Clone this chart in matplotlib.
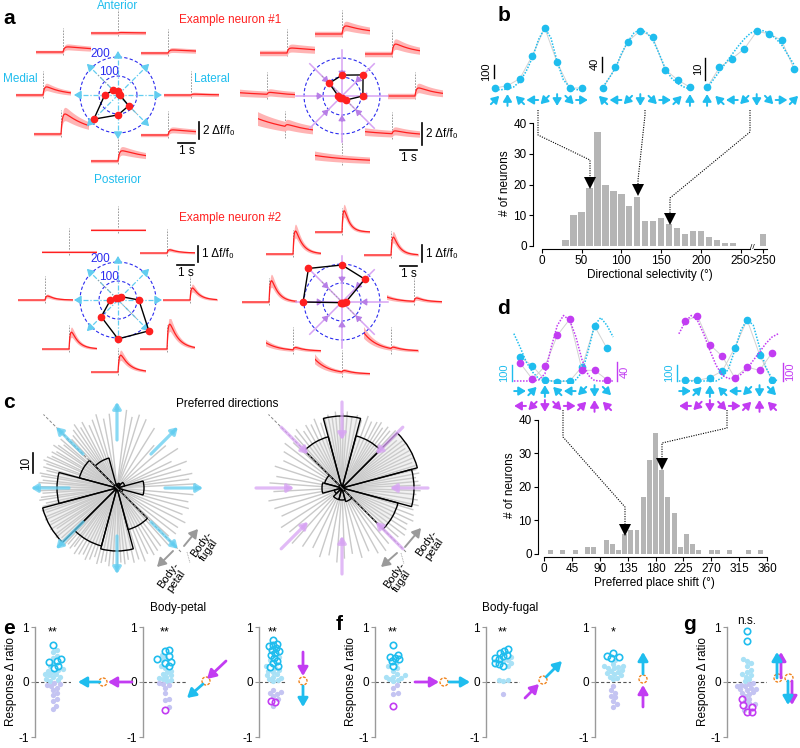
import numpy as np
import matplotlib
matplotlib.use("Agg")
import matplotlib.pyplot as plt
from matplotlib.patches import Circle
from matplotlib.transforms import offset_copy

plt.rcParams["font.family"] = ["Liberation Sans", "DejaVu Sans"]
plt.rcParams["font.size"] = 8.5
plt.rcParams["axes.linewidth"] = 0.8
plt.rcParams["xtick.major.size"] = 3
plt.rcParams["ytick.major.size"] = 3
plt.rcParams["xtick.major.pad"] = 1.5
plt.rcParams["ytick.major.pad"] = 1.5

W, H = 800, 748

RED = "#ff2020"
RED_BAND = "#ffb4b4"
CYAN = "#1fbdee"
CYAN_L = "#a9e1f6"
CYAN_A = "#62cdf0"
VIOLET = "#c23cf2"
VIOLET_A = "#d7a3f3"
LAV = "#c4c4f2"
BLUE = "#2b2bef"
ORANGE = "#f0841e"
BAR = "#b5b5b5"

# ---------------- data ----------------
# panel a, directions in the order E, NE, N, NW, W, SW, S, SE
dir_deg = [0, 45, 90, 135, 180, 225, 270, 315]

n1_cyan_amp = [0.1, 0.35, 0.05, 0.6, 0.95, 2.35, 1.2, 0.6]
n1_cyan_tau = [1.0, 3.0, 1.0, 3.0, 1.0, 1.5, 2.0, 3.0]
n1_cyan_drift = [0, 0, 0, 0, 0, 0, 0, 0]
n1_cyan_polar = [10, 10, 20, 35, 70, 180, 105, 80]

n1_violet_amp = [0.73, 0.9, 0.73, 0.45, 0.18, 0.2, 0.0, 0.27]
n1_violet_tau = [1.2, 1.2, 1.5, 3.0, 1.0, 1.0, 1.0, 1.0]
n1_violet_drift = [0.0, 0.0, 0.0, 0.0, 0.3, 1.5, 0.6, 0.4]
n1_violet_polar = [110, 157, 110, 95, 20, 12, 10, 30]

n2_cyan_amp = [0.75, 0.2, 0.0, 0.0, 0.25, 1.05, 1.05, 1.55]
n2_cyan_tau = [0.4, 0.5, 1.0, 1.0, 0.4, 0.4, 0.5, 0.5]
n2_cyan_drift = [0, 0, 0, 0, 0, 0, 0, 0]
n2_cyan_polar = [110, 25, 10, 15, 40, 125, 205, 230]

n2_violet_amp = [0.2, 1.05, 1.25, 1.35, 1.25, 0.15, 0.1, 0.1]
n2_violet_tau = [0.5, 0.35, 0.3, 0.4, 0.4, 0.5, 0.5, 0.5]
n2_violet_drift = [0.3, 0.0, 0.0, 0.0, 0.0, 0.5, 0.9, 1.1]
n2_violet_polar = [20, 170, 195, 250, 205, 5, 5, 10]

# panel b
b_bins = [30, 40, 50, 60, 70, 80, 90, 100, 110, 120, 130, 140, 150, 160, 170,
          180, 190, 200, 210, 220, 230, 240]
b_counts = [2, 10, 11, 19, 37, 20, 18, 17, 13, 16, 8, 8, 9, 7, 6, 4, 5, 5, 3, 2, 1, 1]
b_over = 4

b1_pts = [0, 18, 72, 249, 462, 197, 0, 0]
b1_fit = [-13, -13, -8, 8, 51, 128, 231, 372, 462, 385, 205, 64, 8, -13, -13]
b1_arrows = ["↗", "↑", "↖", "←", "↙", "↓", "↘", "→"]
b2_pts = [0, 55, 124, 153, 136, 49, 22, 2]
b2_fit = [3, 27, 53, 93, 124, 147, 156, 148, 129, 93, 53, 27, 12, 3, -3]
b2_arrows = ["↖", "←", "↙", "↓", "↘", "→", "↗", "↑"]
b3_pts = [0.3, 9.5, 13.5, 18, 26.1, 25, 22, 8.9]
b3_fit = [0, 3.8, 7.7, 11.5, 15.4, 19.2, 22.6, 25.3, 26.6, 26.4, 25.3, 23, 20, 15.4, 10.8]
b3_arrows = ["↑", "↖", "←", "↙", "↓", "↘", "→", "↗"]

# panel c, 30 degree bins
rose_bins = [0, 30, 60, 90, 120, 150, 180, 210, 240, 270, 300, 330]
petal_counts = [13.5, 4, 2.5, 2, 15.5, 19.5, 30, 38.5, 30, 31.5, 21.5, 3]
fugal_counts = [36, 39, 27, 36, 26.5, 9, 10, 4, 6, 6, 7, 29]
petal_dirs = [3, 7, 11, 16, 21, 26, 33, 41, 49, 58, 67, 73, 78, 83, 96, 101, 106, 110,
              114, 118, 121, 124, 127, 130, 133, 136, 139, 141, 144, 146, 149, 151, 154,
              156, 159, 161, 164, 166, 169, 171, 174, 176, 179, 182, 184, 187, 189, 192,
              194, 197, 199, 202, 204, 207, 209, 212, 214, 217, 219, 222, 224, 227, 229,
              232, 234, 237, 240, 243, 246, 249, 252, 255, 258, 261, 264, 267, 270, 273,
              276, 279, 283, 287, 291, 295, 299, 303, 307, 312, 317, 322, 327, 333, 338,
              344, 349, 355]
petal_len = [39, 36, 38, 33, 37, 30, 36, 32, 28, 35, 37, 38, 36, 39, 37, 35, 38, 36,
             34, 37, 35, 38, 36, 34, 33, 35, 37, 34, 36, 38, 35, 37, 36, 38, 39, 37,
             38, 36, 39, 38, 37, 39, 38, 39, 37, 38, 39, 36, 38, 39, 37, 38, 39, 37,
             38, 39, 36, 38, 39, 37, 38, 39, 37, 38, 36, 39, 38, 37, 39, 38, 36, 39,
             38, 37, 39, 38, 39, 37, 38, 36, 38, 37, 39, 36, 38, 37, 36, 38, 35, 37,
             36, 38, 35, 37, 36, 38]
fugal_dirs = [2, 5, 8, 11, 14, 17, 20, 23, 26, 29, 32, 35, 38, 41, 44, 47, 50, 53, 56,
              59, 62, 66, 70, 74, 78, 82, 86, 89, 92, 95, 98, 101, 104, 108, 112, 116,
              120, 124, 128, 132, 137, 142, 148, 155, 162, 170, 176, 183, 190, 197, 205,
              213, 220, 228, 236, 244, 252, 259, 266, 272, 279, 286, 293, 299, 305, 310,
              315, 319, 323, 327, 331, 335, 339, 343, 347, 351, 355, 358]
fugal_len = [39, 38, 37, 39, 38, 39, 37, 38, 39, 38, 37, 39, 38, 36, 38, 39, 37, 38, 36,
             38, 37, 36, 38, 35, 37, 36, 38, 37, 36, 38, 35, 37, 36, 34, 37, 35, 36,
             34, 37, 35, 33, 36, 34, 32, 35, 33, 36, 34, 37, 35, 33, 36, 34, 37, 35,
             33, 36, 34, 37, 35, 33, 36, 34, 37, 38, 36, 38, 37, 39, 38, 37, 39, 38,
             37, 39, 38, 37, 39]

# panel d
d_bins = [0, 10, 20, 30, 40, 50, 60, 70, 80, 90, 100, 110, 120, 130, 140, 150, 160, 170,
          180, 190, 200, 210, 220, 230, 240, 250, 260, 270, 280, 290, 300, 310, 320, 330,
          340, 350]
d_counts = [0, 1, 0, 1, 0, 1, 0, 2, 2, 0, 4, 3, 1, 6, 7, 7, 17, 28, 36, 25, 17, 12, 2, 6,
            3, 1, 0, 1, 1, 0, 1, 0, 0, 1, 0, 1]

dl_cyan_pts = [152, 94, 6, -4, 0, 89, 344, 204]
dl_cyan_fit = [296, 212, 119, 56, 15, 0, 0, 0, 0, 0, 8, 56, 192, 348, 396, 348, 275]
dl_mag_pts = [38, 3.5, 31, 96, 130, 22.5, 22.5, 2.8]
dl_mag_fit = [0, 0, 0, 0, 2, 15, 70, 117, 138, 128, 93, 44, 12, 1, 0, 0, 0]
dr_cyan_pts = [4, 4, 21, 62, 206, 383, 165, 4]
dr_cyan_fit = [0, 0, 0, 0, 0, 0, 0, 21, 77, 192, 317, 385, 348, 212, 87, 15, 0]
dr_mag_pts = [328, 355, 198, 135, 18, 76, 58, 153]
dr_mag_fit = [258, 322, 358, 331, 258, 167, 86, 31, 13, 18, 36, 67, 113, 158, 204, 240, 258]
d_cyan_arrows = ["→", "↗", "↑", "↖", "←", "↙", "↓", "↘"]
d_mag_arrows = ["←", "↙", "↓", "↘", "→", "↗", "↑", "↖"]

# panels e-g: response delta ratio
e1_open_up = [0.68, 0.41, 0.38, 0.37, 0.30, 0.25]
e1_fill_up = [0.59, 0.55, 0.48, 0.44, 0.35, 0.29, 0.24, 0.20, 0.18, 0.15, 0.12, 0.09,
              0.06, 0.03, 0.02, 0.10, 0.14, 0.22]
e1_fill_dn = [-0.02, -0.04, -0.06, -0.08, -0.10, -0.15, -0.20, -0.24, -0.30, -0.34,
              -0.43, -0.49]
e1_open_dn = []
e2_open_up = [0.59, 0.56, 0.48, 0.41, 0.36, 0.35, 0.29]
e2_fill_up = [0.50, 0.45, 0.40, 0.30, 0.25, 0.20, 0.15, 0.10, 0.08, 0.05, 0.03, 0.02,
              0.12, 0.18]
e2_fill_dn = [-0.02, -0.03, -0.05, -0.10, -0.20, -0.30, -0.33, -0.45]
e2_open_dn = [-0.50]
e3_open_up = [0.76, 0.70, 0.68, 0.65, 0.62, 0.59, 0.56, 0.53, 0.50, 0.44, 0.38, 0.35,
              0.30, 0.27]
e3_fill_up = [0.45, 0.40, 0.30, 0.25, 0.22, 0.20, 0.18, 0.15, 0.12, 0.10, 0.08, 0.05,
              0.03, 0.02]
e3_fill_dn = [-0.15, -0.18, -0.20, -0.22, -0.25, -0.30, -0.43]
e3_open_dn = [-0.35, -0.36]
f1_open_up = [0.68, 0.50, 0.46, 0.44, 0.41, 0.38, 0.29]
f1_fill_up = [0.35, 0.30, 0.25, 0.20, 0.15, 0.12, 0.10, 0.08, 0.05, 0.03, 0.02, 0.10]
f1_fill_dn = [-0.05, -0.10, -0.20, -0.22]
f1_open_dn = [-0.43]
f2_open_up = [0.60, 0.56, 0.53, 0.50, 0.47, 0.44, 0.41, 0.35, 0.32, 0.29]
f2_fill_up = [0.45, 0.40, 0.38, 0.35, 0.30, 0.03, 0.02, 0.04]
f2_fill_dn = [-0.22]
f2_open_dn = []
f3_open_up = [0.52, 0.47, 0.45, 0.43]
f3_fill_up = [0.40, 0.33, 0.30, 0.30, 0.28, 0.26, 0.25, 0.22, 0.20, 0.18, 0.16, 0.14,
              0.12, 0.10, 0.08, 0.05]
f3_fill_dn = [-0.08, -0.15, -0.20, -0.25, -0.28, -0.35, -0.40, -0.45]
f3_open_dn = []
g_open_up = [0.92, 0.75]
g_fill_up = [0.42, 0.38, 0.35, 0.30, 0.22, 0.18, 0.15, 0.12, 0.10, 0.05, 0.02]
g_fill_dn = [-0.02, -0.03, -0.05, -0.07, -0.08, -0.10, -0.12, -0.13, -0.15, -0.18, -0.20,
             -0.22, -0.25, -0.30, -0.35, -0.38, -0.40, -0.45, -0.50]
g_open_dn = [-0.30, -0.42, -0.45, -0.55, -0.55]
sig_labels = ["**", "**", "**", "**", "**", "*", "n.s."]

# ---------------- figure ----------------
fig = plt.figure(figsize=(W / 100, H / 100), dpi=100)


def px_axes(x, y, w, h, **kw):
    ax = fig.add_axes([x / W, 1 - (y + h) / H, w / W, h / H], **kw)
    ax.patch.set_alpha(0)
    return ax


ov = px_axes(0, 0, W, H)
ov.set_xlim(0, W)
ov.set_ylim(H, 0)
ov.axis("off")
ov.set_zorder(10)

arrow_deg = {"→": 0, "↗": 45, "↑": 90, "↖": 135, "←": 180, "↙": 225, "↓": 270, "↘": 315}


def arrow_row(ax, glyphs, y, color, L=8.5):
    for i, g in enumerate(glyphs):
        a = np.deg2rad(arrow_deg[g])
        hx, hy = 0.5 * L * np.cos(a), 0.5 * L * np.sin(a)
        tip = offset_copy(ax.transData, fig=fig, x=hx, y=hy, units="points")
        tail = offset_copy(ax.transData, fig=fig, x=-hx, y=-hy, units="points")
        ax.annotate("", xy=(i, y), xycoords=tip, xytext=(i, y), textcoords=tail,
                    arrowprops=dict(arrowstyle="-|>,head_length=0.5,head_width=0.3",
                                    color=color, lw=1.4, shrinkA=0, shrinkB=0),
                    annotation_clip=False)


def ov_arrow(x0, y0, x1, y1, color, lw=2.0):
    ov.annotate("", xy=(x1, y1), xytext=(x0, y0),
                arrowprops=dict(arrowstyle="-|>,head_length=0.6,head_width=0.35",
                                color=color, lw=lw, shrinkA=0, shrinkB=0))


# ---------- panel a ----------
t = np.linspace(-1.6, 1.6, 161)
tp = np.clip(t, 0, None)


def make_trace(amp, tau, drift, dtau):
    shape = np.where(t > 0, (1 - np.exp(-tp / 0.08)) * np.exp(-tp / tau), 0.0)
    shape = shape / shape.max()
    return amp * shape + drift * np.exp(-(t + 1.6) / dtau)


top_off = [(73, 0), (50, -42), (0, -62), (-55, -43), (-75, 0), (-57, 39), (0, 66), (50, 40)]
bot_off = [(72, 0), (49, -47), (0, -70), (-49, -48), (-73, 0), (-49, 49), (0, 72), (49, 49)]

a_groups = [
    (118, 95, 8.5, 0.2, 2.0, n1_cyan_amp, n1_cyan_tau, n1_cyan_drift, n1_cyan_polar, True, top_off),
    (342, 96, 11.0, 0.25, 2.5, n1_violet_amp, n1_violet_tau, n1_violet_drift, n1_violet_polar, False, top_off),
    (118, 300, 16.0, 0.06, 0.8, n2_cyan_amp, n2_cyan_tau, n2_cyan_drift, n2_cyan_polar, True, bot_off),
    (342, 302, 17.0, 0.07, 0.8, n2_violet_amp, n2_violet_tau, n2_violet_drift, n2_violet_polar, False, bot_off),
]

ring = np.linspace(0, 2 * np.pi, 181)
for cx, cy, s, sem0, dtau, amps, taus, drifts, polar, outward, offs in a_groups:
    for k in range(8):
        dx, dy = offs[k]
        ax = px_axes(cx + dx - 27.5, cy + dy - 30, 55, 38)
        y = make_trace(amps[k], taus[k], drifts[k], dtau)
        sem = sem0 + 0.25 * np.abs(y)
        ax.plot([0, 0], [-3 / s, 24 / s], color="#8c8c8c", lw=0.6, ls=(0, (2, 1.5)), zorder=0)
        ax.fill_between(t, y - sem, y + sem, color=RED_BAND, lw=0)
        ax.plot(t, y, color=RED, lw=0.9)
        ax.set_xlim(-1.6, 1.6)
        ax.set_ylim(-8 / s, 30 / s)
        ax.axis("off")

    pa = px_axes(cx - 52, cy - 52, 104, 104)
    pa.set_xlim(-274, 274)
    pa.set_ylim(-274, 274)
    pa.axis("off")
    for rr in (100, 200):
        pa.plot(rr * np.cos(ring), rr * np.sin(ring), color=BLUE, lw=0.8, ls=(0, (3, 2)))
    for a in np.deg2rad(dir_deg):
        c, sn = np.cos(a), np.sin(a)
        if outward:
            pa.plot([0, 205 * c], [0, 205 * sn], color=CYAN_A, lw=0.9, ls=(0, (4, 1.5, 1, 1.5)))
            pa.annotate("", xy=(232 * c, 232 * sn), xytext=(200 * c, 200 * sn),
                        arrowprops=dict(arrowstyle="-|>,head_length=0.5,head_width=0.3",
                                        color=CYAN_A, lw=0.9, shrinkA=0, shrinkB=0))
        else:
            pa.plot([0, 240 * c], [0, 240 * sn], color=VIOLET_A, lw=1.1)
            pa.annotate("", xy=(100 * c, 100 * sn), xytext=(135 * c, 135 * sn),
                        arrowprops=dict(arrowstyle="-|>,head_length=0.4,head_width=0.25",
                                        color="#b77ee6", lw=0.8, shrinkA=0, shrinkB=0))
    dg = np.deg2rad(135)
    pa.plot([150 * np.cos(dg), -150 * np.cos(dg)], [150 * np.sin(dg), -150 * np.sin(dg)],
            color="#999999", lw=0.6, ls=(0, (2, 2)))
    pv = np.array(list(polar) + [polar[0]], float)
    tv = np.deg2rad(dir_deg + [dir_deg[0]])
    pa.plot(pv * np.cos(tv), pv * np.sin(tv), color="k", lw=1.0, zorder=4)
    pa.plot(pv[:-1] * np.cos(tv[:-1]), pv[:-1] * np.sin(tv[:-1]), "o", color=RED, ms=4.5, zorder=5)
    if outward:
        ov.text(cx - 18, cy - 41, "200", color=BLUE, ha="center", va="center")
        ov.text(cx - 9, cy - 23, "100", color=BLUE, ha="center", va="center")

ov.text(118, 6, "Anterior", color=CYAN, ha="center", va="center")
ov.text(118, 180, "Posterior", color=CYAN, ha="center", va="center")
ov.text(20, 79, "Medial", color=CYAN, ha="center", va="center")
ov.text(212, 79, "Lateral", color=CYAN, ha="center", va="center")
ov.text(230, 20, "Example neuron #1", color=RED, ha="center", va="center")
ov.text(230, 218, "Example neuron #2", color=RED, ha="center", va="center")

for vx, vy0, vy1, hx0, hy, lab in [(199, 122, 139, 178, 143, "2 Δf/f₀"),
                                   (422, 123, 145, 400, 150, "2 Δf/f₀"),
                                   (198, 246, 262, 177, 265, "1 Δf/f₀"),
                                   (422, 245, 262, 400, 266, "1 Δf/f₀")]:
    ov.plot([vx, vx], [vy0, vy1], color="k", lw=1.2)
    ov.text(vx + 4, (vy0 + vy1) / 2, lab, ha="left", va="center")
    ov.plot([hx0, hx0 + 17], [hy, hy], color="k", lw=1.2)
    ov.text(hx0 + 8.5, hy + 2, "1 s", ha="center", va="top")

# ---------- panel b ----------
b_curves = [(487, b1_pts, b1_fit, 0.13, -0.1, (77, 177), "100", b1_arrows),
            (595, b2_pts, b2_fit, 0.375, -0.1, (43, 83), "40", b2_arrows),
            (699, b3_pts, b3_fit, 2.17, -0.15, (3.7, 13.8), "10", b3_arrows)]
for x0, pts, fit, ppu, bx, by, lab, arrows in b_curves:
    ax = px_axes(x0, 18, 103, 74)
    ax.set_xlim(-0.65, 7.65)
    ax.set_ylim(-4 / ppu, 70 / ppu)
    ax.axis("off")
    xs = np.arange(len(pts))
    xf = np.arange(len(fit)) / 2
    ax.plot(xs, pts, color="#d2d2d2", lw=0.7)
    ax.plot(xf, fit, color=CYAN, lw=1.1, ls=(0, (1, 1)))
    ax.plot(xs, pts, "o", color=CYAN, ms=4.5)
    ax.plot([bx, bx], by, color="k", lw=1.0, clip_on=False)
    ax.text(bx - 0.2, np.mean(by), lab, rotation=90, ha="right", va="center", fontsize=8,
            clip_on=False)
    ar = px_axes(x0, 93, 103, 14)
    ar.set_xlim(-0.65, 7.65)
    ar.set_ylim(0, 1)
    ar.axis("off")
    arrow_row(ar, arrows, 0.5, CYAN)

hb = px_axes(533, 117, 234, 132)
hb.bar(b_bins, b_counts, width=8, color=BAR)
hb.bar([278], [b_over], width=8, color=BAR)
hb.set_xlim(-11, 283)
hb.set_ylim(-1, 42)
for sp in ("top", "right", "bottom"):
    hb.spines[sp].set_visible(False)
hb.spines["left"].set_bounds(0, 40)
hb.plot([0, 262], [-1, -1], color="k", lw=0.8, clip_on=False)
hb.plot([267, 283], [-1, -1], color="k", lw=0.8, clip_on=False)
hb.text(264.5, -0.6, "//", ha="center", va="center", fontsize=6)
hb.set_xticks([0, 50, 100, 150, 200, 250, 278])
hb.set_xticklabels(["0", "50", "100", "150", "200", "250", ">250"])
hb.set_yticks([0, 10, 20, 30, 40])
hb.set_xlabel("Directional selectivity (°)", labelpad=1)
hb.set_ylabel("# of neurons", labelpad=2)

# ---------- panel d ----------
d_pairs = [(512, dl_cyan_pts, dl_cyan_fit, dl_mag_pts, dl_mag_fit, 0.475, 7.8, (0, 40), "40"),
           (677, dr_cyan_pts, dr_cyan_fit, dr_mag_pts, dr_mag_fit, 0.183, 7.9, (0, 100), "100")]
for x0, cp, cf, mp, mf, mppu, mbx, mby, mlab in d_pairs:
    xs = np.arange(8)
    xf = np.arange(17) / 2 - 0.5
    axc = px_axes(x0, 308, 103, 75)
    axc.set_xlim(-0.65, 7.65)
    axc.set_ylim(-2 / 0.16, 73 / 0.16)
    axc.axis("off")
    axc.plot(xs, cp, color="#d2d2d2", lw=0.7)
    axc.plot(xf, cf, color=CYAN, lw=1.1, ls=(0, (1, 1)))
    axc.plot(xs, cp, "o", color=CYAN, ms=4.5)
    axc.plot([-0.65, -0.65], [0, 100], color=CYAN, lw=1.0, clip_on=False)
    axc.text(-0.85, 50, "100", color=CYAN, rotation=90, ha="right", va="center", fontsize=8,
             clip_on=False)
    axm = px_axes(x0, 308, 103, 75)
    axm.set_xlim(-0.65, 7.65)
    axm.set_ylim(-2 / mppu, 73 / mppu)
    axm.axis("off")
    axm.plot(xs, mp, color="#d2d2d2", lw=0.7)
    axm.plot(xf, mf, color=VIOLET, lw=1.1, ls=(0, (1, 1)))
    axm.plot(xs, mp, "o", color=VIOLET, ms=4.5)
    axm.plot([mbx, mbx], mby, color=VIOLET, lw=1.0, clip_on=False)
    axm.text(mbx + 0.2, np.mean(mby), mlab, color=VIOLET, rotation=90, ha="left",
             va="center", fontsize=8, clip_on=False)
    ar = px_axes(x0, 383, 103, 31)
    ar.set_xlim(-0.65, 7.65)
    ar.set_ylim(0, 1)
    ar.axis("off")
    arrow_row(ar, d_cyan_arrows, 0.74, CYAN)
    arrow_row(ar, d_mag_arrows, 0.26, VIOLET)

hd = px_axes(538, 413, 232, 144)
hd.bar(d_bins, d_counts, width=8, color=BAR)
hd.set_xlim(-10, 365)
hd.set_ylim(-1, 42)
for sp in ("top", "right"):
    hd.spines[sp].set_visible(False)
hd.spines["left"].set_bounds(0, 40)
hd.spines["bottom"].set_bounds(0, 360)
hd.set_xticks([0, 45, 90, 135, 180, 225, 270, 315, 360])
hd.set_yticks([0, 10, 20, 30, 40])
hd.set_xlabel("Preferred place shift (°)", labelpad=1)
hd.set_ylabel("# of neurons", labelpad=2)

# connectors b and d
for xs_, ys_ in [([538, 538, 590, 590], [110, 135, 160, 179]),
                 ([645, 645, 638, 638], [110, 115, 180, 186]),
                 ([750, 750, 670, 670], [110, 132, 198, 215]),
                 ([563, 563, 625, 625], [410, 437, 507, 526]),
                 ([727, 727, 662, 662], [410, 428, 443, 460])]:
    ov.plot(xs_, ys_, color="k", lw=0.8, ls=(0, (1, 1.2)))
    ov.plot(xs_[-1], ys_[-1] + 4, marker="v", color="k", ms=8, mew=0)

# ---------- panel c ----------
for cx, counts, angs, lens, outward, acol in [(117, petal_counts, petal_dirs, petal_len, True, CYAN_A),
                                               (342, fugal_counts, fugal_dirs, fugal_len, False, VIOLET_A)]:
    rx = px_axes(cx - 110, 488 - 110, 220, 220, projection="polar")
    rx.set_ylim(0, 55)
    rx.set_axis_off()
    for a, L in zip(angs, lens):
        rx.plot([np.deg2rad(a)] * 2, [0, L], color="#c9c9c9", lw=1.0, zorder=1)
    rx.bar(np.deg2rad(rose_bins), counts, width=np.deg2rad(30), color=(0.82, 0.82, 0.82, 0.3),
           edgecolor="k", lw=1.0, zorder=3)
    rx.plot([np.deg2rad(135)] * 2, [0, 52], color="#888888", lw=0.7, ls=(0, (3, 2)), zorder=4)
    rx.plot([np.deg2rad(315)] * 2, [0, 46], color="#888888", lw=0.7, ls=(0, (3, 2)), zorder=4)
    for a in np.deg2rad(dir_deg):
        r0, r1 = (24, 43) if outward else (43, 24)
        rx.annotate("", xy=(a, r1), xytext=(a, r0),
                    arrowprops=dict(arrowstyle="-|>,head_length=0.45,head_width=0.28",
                                    color=acol, alpha=0.75, lw=2.3, shrinkA=0, shrinkB=0),
                    zorder=5)

ov.text(227, 404, "Preferred directions", ha="center", va="center")
ov.plot([33, 33], [453, 473], color="k", lw=1.2)
ov.text(26, 463, "10", rotation=90, ha="center", va="center")
for (x0, y0, x1, y1) in [(184, 546, 198, 529), (173, 551, 157, 567),
                         (405, 547, 421, 528), (397, 553, 381, 567)]:
    ov_arrow(x0, y0, x1, y1, "#9a9a9a", lw=1.4)
ov.plot([187, 190], [552, 563], color="#999999", lw=0.6, ls=(0, (1, 1)))
ov.plot([401, 404], [553, 564], color="#999999", lw=0.6, ls=(0, (1, 1)))
ov.text(205, 547, "Body-\nfugal", rotation=55, ha="center", va="center", fontsize=8, linespacing=0.95)
ov.text(172, 578, "Body-\npetal", rotation=55, ha="center", va="center", fontsize=8, linespacing=0.95)
ov.text(430, 546, "Body-\npetal", rotation=55, ha="center", va="center", fontsize=8, linespacing=0.95)
ov.text(398, 578, "Body-\nfugal", rotation=55, ha="center", va="center", fontsize=8, linespacing=0.95)

# ---------- panels e-g ----------
ST_TOP, ST_H = 627, 110
PPY = ST_H / 2.0


def swarm(vals, d=4.2):
    ys = np.asarray(vals, float) * PPY
    xs = np.zeros(len(ys))
    placed = []
    for i in np.argsort(ys):
        for step in range(80):
            cands = [0.0] if step == 0 else [step * 0.5, -step * 0.5]
            hit = None
            for c in cands:
                if all((c - xs[j]) ** 2 + (ys[i] - ys[j]) ** 2 >= d * d for j in placed):
                    hit = c
                    break
            if hit is not None:
                xs[i] = hit
                break
        placed.append(i)
    return xs


strips = [(35, 36, e1_open_up, e1_fill_up, e1_fill_dn, e1_open_dn, True),
          (143, 44, e2_open_up, e2_fill_up, e2_fill_dn, e2_open_dn, False),
          (259, 28, e3_open_up, e3_fill_up, e3_fill_dn, e3_open_dn, False),
          (375, 36, f1_open_up, f1_fill_up, f1_fill_dn, f1_open_dn, True),
          (486, 34, f2_open_up, f2_fill_up, f2_fill_dn, f2_open_dn, False),
          (595, 36, f3_open_up, f3_fill_up, f3_fill_dn, f3_open_dn, False),
          (727, 40, g_open_up, g_fill_up, g_fill_dn, g_open_dn, True)]
for (x0, w, o_up, f_up, f_dn, o_dn, ylab), sig in zip(strips, sig_labels):
    ax = px_axes(x0, ST_TOP, w, ST_H)
    vals = list(f_up) + list(f_dn) + list(o_up) + list(o_dn)
    kinds = ["fu"] * len(f_up) + ["fd"] * len(f_dn) + ["ou"] * len(o_up) + ["od"] * len(o_dn)
    xoff = swarm(vals) / (w / 2)
    ax.axhline(0, color="#555555", lw=0.8, ls=(0, (3, 2)), zorder=1)
    for kind, col, face in [("fu", CYAN_L, True), ("fd", LAV, True), ("ou", CYAN, False), ("od", VIOLET, False)]:
        idx = [i for i, k in enumerate(kinds) if k == kind]
        if not idx:
            continue
        xx = [xoff[i] for i in idx]
        yy = [vals[i] for i in idx]
        if face:
            ax.plot(xx, yy, "o", color=col, ms=3.8, mew=0, zorder=2)
        else:
            ax.plot(xx, yy, "o", mfc="none", mec=col, ms=4.6, mew=1.2, zorder=3)
    ax.set_xlim(-1, 1)
    ax.set_ylim(-1, 1)
    for sp in ("top", "right", "bottom"):
        ax.spines[sp].set_visible(False)
    ax.spines["left"].set_color("#9a9a9a")
    ax.spines["left"].set_linewidth(1.0)
    ax.tick_params(axis="y", colors="#9a9a9a", labelcolor="k")
    ax.set_xticks([])
    ax.set_yticks([-1, 0, 1])
    ax.set_yticklabels(["-1", "0", "1"])
    ax.text(0, 0.9 if sig != "n.s." else 1.1, sig, ha="center", va="center",
            fontsize=9 if sig != "n.s." else 8.5, clip_on=False)
    if ylab:
        ax.set_ylabel("Response Δ ratio", labelpad=1)

ov.text(178, 608, "Body-petal", ha="center", va="center")
ov.text(510, 608, "Body-fugal", ha="center", va="center")

Z0 = ST_TOP + ST_H / 2  # pixel row of the zero line
schem = [((132, 0, 108, 0), (103, 0), (100, 0, 78, 0)),
         ((226, -21, 207, -3), (206, -1), (203, 2, 187, 16)),
         ((303, -30, 303, -6), (303, -1), (303, 4, 303, 25)),
         ((415, 0, 439, 0), (444, 0), (449, 0, 470, 0)),
         ((525, 16, 539, 2), (543, -2), (546, -5, 562, -21)),
         ((643, 25, 643, 3), (643, -3), (643, -8, 643, -30))]
for m, oc, c in schem:
    ov_arrow(m[0], Z0 + m[1], m[2], Z0 + m[3], VIOLET)
    ov_arrow(c[0], Z0 + c[1], c[2], Z0 + c[3], CYAN)
    ov.add_patch(Circle((oc[0], Z0 + oc[1]), 4, fill=False, ec=ORANGE, lw=1.0, ls=(0, (2, 1))))
ov_arrow(781, Z0 - 4, 781, Z0 - 30, VIOLET)
ov_arrow(777, Z0 - 4, 777, Z0 - 30, CYAN)
ov.add_patch(Circle((778, Z0 - 4), 4, fill=False, ec=ORANGE, lw=1.0, ls=(0, (2, 1))))
ov_arrow(792, Z0 - 1, 792, Z0 + 23, VIOLET)
ov_arrow(788, Z0 - 1, 788, Z0 + 23, CYAN)
ov.add_patch(Circle((789, Z0 - 4), 4, fill=False, ec=ORANGE, lw=1.0, ls=(0, (2, 1))))

# panel letters
for lab, x, y in [("a", 3, 18), ("b", 498, 15), ("c", 3, 402), ("d", 497, 308),
                  ("e", 3, 628), ("f", 336, 625), ("g", 683, 625)]:
    ov.text(x, y, lab, fontsize=15, fontweight="bold", ha="left", va="center")

fig.savefig("out.png", dpi=100)
